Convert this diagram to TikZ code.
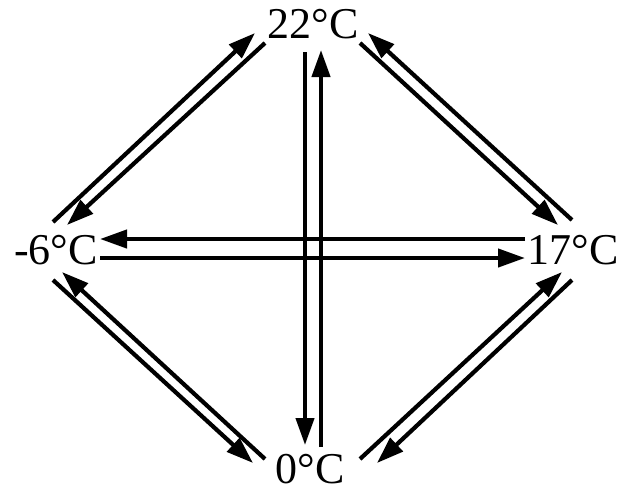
\documentclass[tikz,border=0pt]{standalone}
\usepackage{fontspec}
\setmainfont{Liberation Serif}
\usetikzlibrary{arrows.meta}
\tikzset{
  tlabel/.style={inner sep=0pt, font=\fontsize{44}{48}\selectfont},
  tarrow/.style={-{Triangle[length=27pt,width=18pt]}, line width=4.2pt}
}
\begin{document}
\begin{tikzpicture}[x=1pt,y=-1pt]
\useasboundingbox (0,0) rectangle (619,493);
\node[tlabel] (t22) at (313,24) {22°C};
\node[tlabel] (tm6) at (56,250) {-6°C};
\node[tlabel] (t17) at (573,250) {17°C};
\node[tlabel] (t0) at (310,469) {0°C};

% vertical pair
\draw[tarrow] ([shift={(-8,28)}]t22.center) -- ([shift={(-5,-24)}]t0.center);
\draw[tarrow] ([shift={(11,-22)}]t0.center) -- ([shift={(8,26)}]t22.center);
% horizontal pair
\draw[tarrow] ([shift={(-48,-11)}]t17.center) -- ([shift={(44,-11)}]tm6.center);
\draw[tarrow] ([shift={(44,8)}]tm6.center) -- ([shift={(-48,8)}]t17.center);
% top left
\draw[tarrow] ([shift={(-3,-28)}]tm6.center) -- ([shift={(-58,9)}]t22.center);
\draw[tarrow] ([shift={(-48,19)}]t22.center) -- ([shift={(11,-25)}]tm6.center);
% top right
\draw[tarrow] ([shift={(-1,-30)}]t17.center) -- ([shift={(55,9)}]t22.center);
\draw[tarrow] ([shift={(47,19)}]t22.center) -- ([shift={(-15,-25)}]t17.center);
% bottom right
\draw[tarrow] ([shift={(50,-10)}]t0.center) -- ([shift={(-11,22)}]t17.center);
\draw[tarrow] ([shift={(-1,30)}]t17.center) -- ([shift={(67,-6)}]t0.center);
% bottom left
\draw[tarrow] ([shift={(-45,-10)}]t0.center) -- ([shift={(6,22)}]tm6.center);
\draw[tarrow] ([shift={(-3,30)}]tm6.center) -- ([shift={(-57,-6)}]t0.center);
\end{tikzpicture}
\end{document}
